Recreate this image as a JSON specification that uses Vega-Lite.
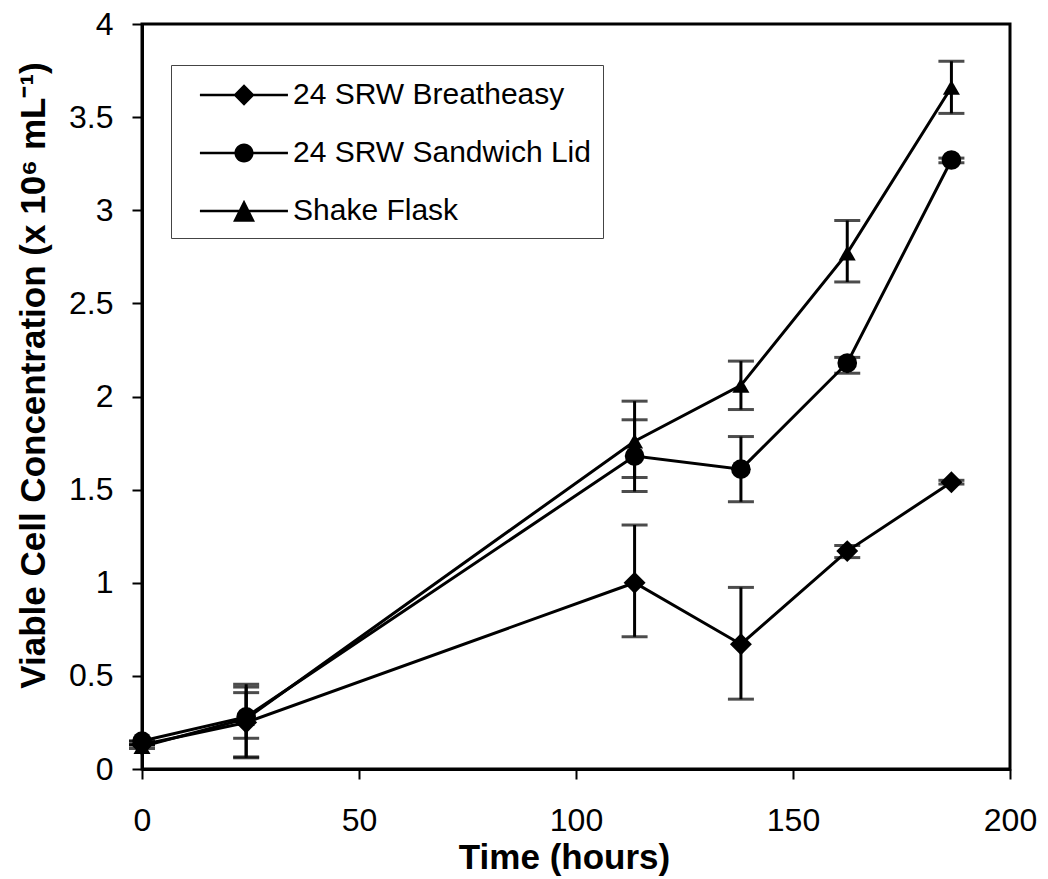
{
  "$schema": "https://vega.github.io/schema/vega-lite/v6.json",
  "width": 868,
  "height": 745,
  "autosize": "none",
  "padding": {"left": 142, "top": 24, "right": 38, "bottom": 110},
  "background": "white",
  "config": {
    "font": "Liberation Sans",
    "view": {"stroke": "black", "strokeWidth": 3},
    "axis": {
      "domainColor": "black", "domainWidth": 3, "tickColor": "black", "tickWidth": 2,
      "tickSize": 10, "labelColor": "black", "labelFont": "Liberation Sans", "labelFontSize": 32,
      "titleFont": "Liberation Sans", "titleFontSize": 35, "titleFontWeight": "bold", "titleColor": "black",
      "grid": false
    }
  },
  "data": {
    "values": [
      {"series": "24 SRW Breatheasy", "time": 0, "v": 0.13, "lo": 0.13, "hi": 0.13},
      {"series": "24 SRW Breatheasy", "time": 24, "v": 0.25, "lo": 0.065, "hi": 0.44},
      {"series": "24 SRW Breatheasy", "time": 113.5, "v": 1.0, "lo": 0.71, "hi": 1.31},
      {"series": "24 SRW Breatheasy", "time": 138, "v": 0.67, "lo": 0.375, "hi": 0.975},
      {"series": "24 SRW Breatheasy", "time": 162.5, "v": 1.17, "lo": 1.135, "hi": 1.2},
      {"series": "24 SRW Breatheasy", "time": 186.5, "v": 1.54, "lo": 1.53, "hi": 1.55},
      {"series": "24 SRW Sandwich Lid", "time": 0, "v": 0.15, "lo": 0.15, "hi": 0.15},
      {"series": "24 SRW Sandwich Lid", "time": 24, "v": 0.28, "lo": 0.165, "hi": 0.41},
      {"series": "24 SRW Sandwich Lid", "time": 113.5, "v": 1.68, "lo": 1.49, "hi": 1.875},
      {"series": "24 SRW Sandwich Lid", "time": 138, "v": 1.61, "lo": 1.435, "hi": 1.785},
      {"series": "24 SRW Sandwich Lid", "time": 162.5, "v": 2.18, "lo": 2.125, "hi": 2.21},
      {"series": "24 SRW Sandwich Lid", "time": 186.5, "v": 3.27, "lo": 3.255, "hi": 3.28},
      {"series": "Shake Flask", "time": 0, "v": 0.12, "lo": 0.11, "hi": 0.13},
      {"series": "Shake Flask", "time": 24, "v": 0.27, "lo": 0.06, "hi": 0.455},
      {"series": "Shake Flask", "time": 113.5, "v": 1.76, "lo": 1.565, "hi": 1.975},
      {"series": "Shake Flask", "time": 138, "v": 2.06, "lo": 1.93, "hi": 2.19},
      {"series": "Shake Flask", "time": 162.5, "v": 2.77, "lo": 2.615, "hi": 2.945},
      {"series": "Shake Flask", "time": 186.5, "v": 3.66, "lo": 3.52, "hi": 3.8}
    ]
  },
  "encoding": {
    "x": {
      "field": "time", "type": "quantitative",
      "scale": {"domain": [0, 200], "nice": false},
      "axis": {"values": [0, 50, 100, 150, 200], "title": "Time (hours)", "labelPadding": 26, "titlePadding": 4, "titleX": 422, "labelFlush": false}
    }
  },
  "layer": [
    {
      "mark": {"type": "line", "color": "black", "strokeWidth": 3},
      "encoding": {
        "y": {
          "field": "v", "type": "quantitative",
          "scale": {"domain": [0, 4], "nice": false},
          "axis": {"values": [0, 0.5, 1, 1.5, 2, 2.5, 3, 3.5, 4], "format": "~g", "title": "Viable Cell Concentration (x 10⁶ mL⁻¹)", "labelPadding": 19, "titlePadding": 17, "titleY": 351, "labelFlush": false}
        },
        "detail": {"field": "series"}
      }
    },
    {
      "mark": {"type": "rule", "color": "black", "strokeWidth": 3},
      "encoding": {"y": {"field": "lo", "type": "quantitative"}, "y2": {"field": "hi"}}
    },
    {
      "mark": {"type": "tick", "color": "black", "orient": "horizontal", "size": 26, "thickness": 3},
      "encoding": {"y": {"field": "lo", "type": "quantitative"}}
    },
    {
      "mark": {"type": "tick", "color": "black", "orient": "horizontal", "size": 26, "thickness": 3},
      "encoding": {"y": {"field": "hi", "type": "quantitative"}}
    },
    {
      "mark": {"type": "point", "filled": true, "color": "black", "opacity": 1},
      "encoding": {
        "y": {"field": "v", "type": "quantitative"},
        "shape": {
          "field": "series", "type": "nominal",
          "scale": {"domain": ["24 SRW Breatheasy", "24 SRW Sandwich Lid", "Shake Flask"], "range": ["diamond", "circle", "triangle-up"]},
          "legend": null
        },
        "size": {
          "field": "series", "type": "nominal",
          "scale": {"domain": ["24 SRW Breatheasy", "24 SRW Sandwich Lid", "Shake Flask"], "range": [480, 290, 480]},
          "legend": null
        }
      }
    },
    {
      "mark": {"type": "point", "filled": true, "color": "black", "opacity": 0, "size": 1296},
      "encoding": {
        "y": {"field": "v", "type": "quantitative"},
        "shape": {
          "field": "series", "type": "nominal",
          "scale": {
            "domain": ["24 SRW Breatheasy", "24 SRW Sandwich Lid", "Shake Flask"],
            "range": [
              "M-0.06,-0.075L4.83,-0.075L4.83,0.075L-0.06,0.075Z M2.39,-0.6L2.98,0L2.39,0.6L1.8,0Z",
              "M-0.06,-0.075L4.83,-0.075L4.83,0.075L-0.06,0.075Z M1.86,0A0.53,0.53 0 1,1 2.92,0A0.53,0.53 0 1,1 1.86,0Z",
              "M-0.06,-0.075L4.83,-0.075L4.83,0.075L-0.06,0.075Z M2.39,-0.62L3.0,0.6L1.78,0.6Z"
            ]
          },
          "legend": {
            "title": null, "orient": "none", "legendX": 29, "legendY": 41,
            "strokeColor": "#444", "fillColor": "white", "padding": 12,
            "symbolSize": 1296, "symbolOpacity": 1, "symbolFillColor": "black", "symbolStrokeColor": "black",
            "symbolStrokeWidth": 0, "labelFontSize": 30, "labelFont": "Liberation Sans", "labelColor": "black",
            "labelOffset": 74, "rowPadding": 25, "labelLimit": 500,
            "encode": {
              "symbols": {"update": {"fill": {"value": "black"}, "opacity": {"value": 1}}},
              "legend": {"update": {"strokeWidth": {"value": 1.5}}}
            }
          }
        }
      }
    }
  ],
  "resolve": {"scale": {"shape": "independent"}}
}
